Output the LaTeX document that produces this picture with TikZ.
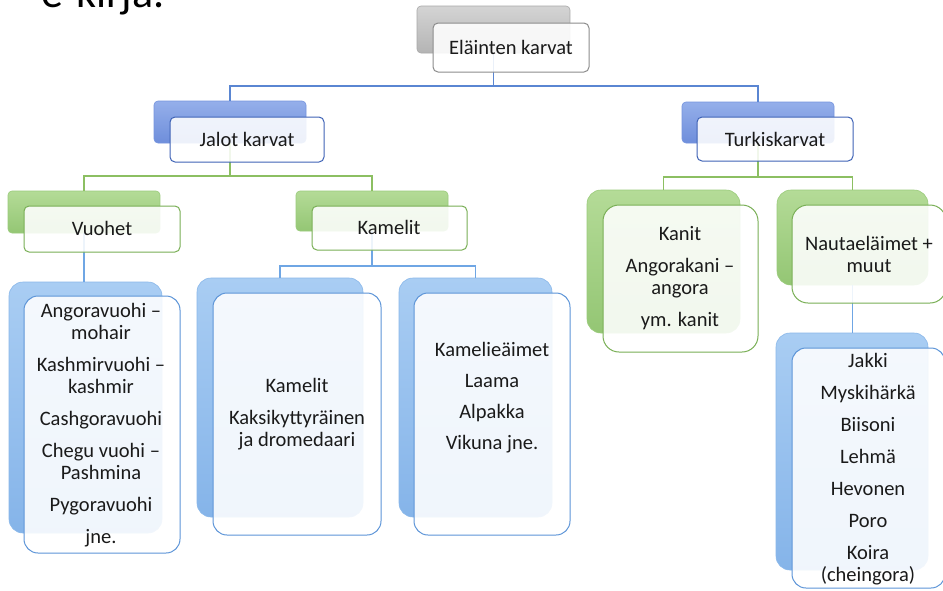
\documentclass[tikz,border=0pt]{standalone}
\usepackage{fontspec}
\setmainfont{Carlito}
\definecolor{grayT}{HTML}{D4D4D4}
\definecolor{grayB}{HTML}{B4B4B4}
\definecolor{grayD}{HTML}{A8A8A8}
\definecolor{grayF}{HTML}{8C8C8C}
\definecolor{dbT}{HTML}{95AFEA}
\definecolor{dbB}{HTML}{6E8EDB}
\definecolor{dbD}{HTML}{7594DE}
\definecolor{dbF}{HTML}{3F63B6}
\definecolor{grT}{HTML}{B4DB97}
\definecolor{grB}{HTML}{94C674}
\definecolor{grD}{HTML}{9ACB7B}
\definecolor{grF}{HTML}{79AF55}
\definecolor{lbT}{HTML}{A9CDF3}
\definecolor{lbB}{HTML}{85B4E9}
\definecolor{lbD}{HTML}{8AB8EA}
\definecolor{lbF}{HTML}{5D95D8}
\definecolor{conAc}{HTML}{5A86D2}
\definecolor{conGc}{HTML}{8CBF62}
\definecolor{conLc}{HTML}{6FA6E4}
\definecolor{txt}{HTML}{1A1A1A}
\newcommand\mybox[6]{\node[#2, minimum width={(#5-#3)*1pt}, minimum height={(#6-#4)*1pt}] (#1) at ({(#3+#5)/2},{(#4+#6)/2}) {};}
\tikzset{
  every node/.style={inner sep=0pt, outer sep=0pt},
  backgray/.style={rounded corners=4pt, top color=grayT, bottom color=grayB, draw=grayD, line width=0.6pt},
  backblue/.style={rounded corners=4pt, top color=dbT, bottom color=dbB, draw=dbD, line width=0.6pt},
  backgreen/.style={rounded corners=#1, top color=grT, bottom color=grB, draw=grD, line width=0.6pt},
  backgreen/.default=4pt,
  backlight/.style={rounded corners=14pt, top color=lbT, bottom color=lbB, draw=lbD, line width=0.6pt},
  frontbox/.style={rounded corners=#1, fill=white, fill opacity=0.88, line width=1pt},
  frontbox/.default=5pt,
  conA/.style={draw=conAc, line width=1.3pt},
  conG/.style={draw=conGc, line width=1.3pt},
  conL/.style={draw=conLc, line width=1.3pt},
  lbl/.style={text=txt, align=center, font=\fontsize{20.5}{22}\selectfont},
}
\begin{document}
\begin{tikzpicture}[x=1pt,y=-1pt]
\clip (0,0) rectangle (943,590);
\fill[white] (0,0) rectangle (943,590);
\node[anchor=base west, text=black, font=\fontsize{44}{44}\selectfont] (title) at (41,7) {e-kirja.};
% back boxes
\mybox{rootB}{backgray}{417}{6}{570}{53}
\mybox{jalB}{backblue}{154}{101}{306}{143}
\mybox{turB}{backblue}{682}{102}{834}{143}
\mybox{vuoB}{backgreen}{8}{191}{160}{233}
\mybox{kamB}{backgreen}{296}{191}{448}{231}
\mybox{kanB}{backgreen=14pt}{587}{190}{740}{333}
\mybox{nauB}{backgreen=14pt}{777}{190}{928}{285}
\mybox{vuoLB}{backlight}{9}{282}{162}{533}
\mybox{kamLB}{backlight}{197}{278}{363}{517}
\mybox{camLB}{backlight}{399}{278}{552}{517}
\mybox{nauLB}{backlight}{776}{333}{928}{570}
% connectors
\draw[conA] (rootB.south) -- ++(0,33) coordinate (r1) -| (jalB.north);
\draw[conA] (r1) -| (turB.north);
\draw[conG] (jalB.south) -- ++(0,33) coordinate (j1) -| (vuoB.north);
\draw[conG] (j1) -| (kamB.north);
\draw[conG] (turB.south) -- ++(0,34) coordinate (t1) -| (kanB.north);
\draw[conG] (t1) -| (nauB.north);
\draw[conL] (vuoB.south) -- (vuoB.south |- vuoLB.north);
\draw[conL] (kamB.south) -- ++(0,35) coordinate (k1) -| (kamLB.north);
\draw[conL] (k1) -| (camLB.north);
\draw[conL] (nauB.south) -- (nauB.south |- nauLB.north);
% front boxes
\mybox{rootF}{frontbox, draw=grayF}{433}{23}{589}{72}
\mybox{jalF}{frontbox, draw=dbF}{170}{117}{324}{162}
\mybox{turF}{frontbox, draw=dbF}{697}{117}{853}{161}
\mybox{vuoF}{frontbox, draw=grF}{24}{206}{180}{252}
\mybox{kamF}{frontbox, draw=grF}{312}{206}{467}{250}
\mybox{kanF}{frontbox=16pt, draw=grF}{603}{205}{758}{352}
\mybox{nauF}{frontbox=16pt, draw=grF}{792}{205}{946}{303}
\mybox{vuoLF}{frontbox=14pt, draw=lbF}{24}{296}{180}{553}
\mybox{kamLF}{frontbox=14pt, draw=lbF}{213}{293}{381}{535}
\mybox{camLF}{frontbox=14pt, draw=lbF}{414}{293}{570}{535}
\mybox{nauLF}{frontbox=14pt, draw=lbF}{792}{348}{945}{588}
% texts
\node[lbl] (rootT) at (511,47) {Eläinten karvat};
\node[lbl] (jalT) at (247,139) {Jalot karvat};
\node[lbl] (turT) at (775,139) {Turkiskarvat};
\node[lbl] (vuoT) at (102,228) {Vuohet};
\node[lbl] (kamT) at (389,227) {Kamelit};
\node[lbl] (kanT) at (680,278) {Kanit\\[10pt]Angorakani –\\angora\\[10pt]ym. kanit};
\node[lbl] (nauT) at (869,254) {Nautaeläimet +\\muut};
\node[lbl] (vuoLT) at (101,425) {Angoravuohi –\\mohair\\[10pt]Kashmirvuohi –\\kashmir\\[10pt]Cashgoravuohi\\[10pt]Chegu vuohi –\\Pashmina\\[10pt]Pygoravuohi\\[10pt]jne.};
\node[lbl] (kamLT) at (297,414) {Kamelit\\[10pt]Kaksikyttyräinen\\ja dromedaari};
\node[lbl] (camLT) at (492,398) {Kamelieäimet\\[9pt]Laama\\[9pt]Alpakka\\[9pt]Vikuna jne.};
\node[lbl] (nauLT) at (868,469) {Jakki\\[10pt]Myskihärkä\\[10pt]Biisoni\\[10pt]Lehmä\\[10pt]Hevonen\\[10pt]Poro\\[10pt]Koira\\(cheingora)};
\end{tikzpicture}
\end{document}
